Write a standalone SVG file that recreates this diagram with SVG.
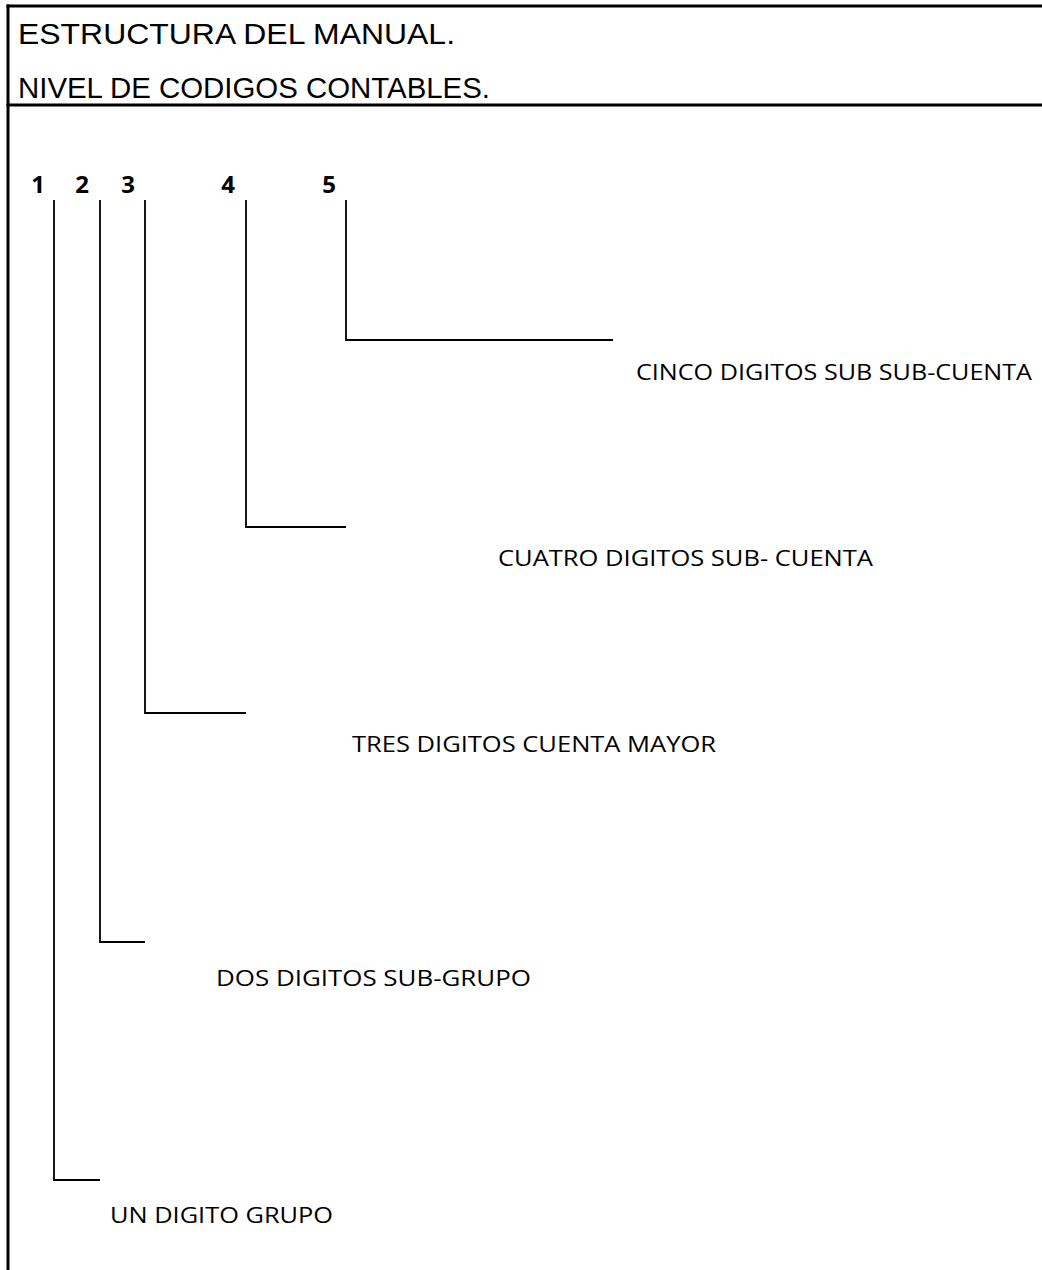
<svg xmlns="http://www.w3.org/2000/svg" width="1042" height="1270" viewBox="0 0 1042 1270">
<style>
.frame{stroke:#000;stroke-width:3;fill:none}
.conn{stroke:#000;stroke-width:1.8;fill:none}
.title{font-family:"Liberation Sans",Arial,sans-serif;font-size:29px;fill:#000}
.digit{font-family:"Open Sans","Noto Sans",sans-serif;font-size:24px;font-weight:bold;fill:#000;text-anchor:middle}
.label{font-family:"Open Sans","Noto Sans",sans-serif;font-size:22px;fill:#000}
</style>
<rect width="1042" height="1270" fill="#fff"/>
<g id="frame">
<line class="frame" x1="8" y1="4.5" x2="8" y2="1270" stroke-width="2.5"/>
<line class="frame" x1="6.5" y1="6" x2="1042" y2="6"/>
<line class="frame" x1="6.5" y1="105" x2="1042" y2="105"/>
<text class="title" x="18" y="44" textLength="437" lengthAdjust="spacingAndGlyphs">ESTRUCTURA DEL MANUAL.</text>
<text class="title" x="18" y="98" textLength="472" lengthAdjust="spacingAndGlyphs">NIVEL DE CODIGOS CONTABLES.</text>
</g>
<g id="digits">
<text class="digit" x="38" y="193">1</text>
<text class="digit" x="82" y="193">2</text>
<text class="digit" x="128" y="193">3</text>
<text class="digit" x="228" y="193">4</text>
<text class="digit" x="329" y="193">5</text>
</g>
<g id="connectors">
<polyline class="conn" points="346,200 346,340 613,340"/>
<polyline class="conn" points="246,200 246,527 346,527"/>
<polyline class="conn" points="145,200 145,713 246,713"/>
<polyline class="conn" points="100,200 100,942 145,942"/>
<polyline class="conn" points="54,200 54,1180 100,1180"/>
</g>
<g id="node5"><text class="label" x="636" y="380" textLength="396" lengthAdjust="spacingAndGlyphs">CINCO DIGITOS SUB SUB-CUENTA</text></g>
<g id="node4"><text class="label" x="498" y="566" textLength="375" lengthAdjust="spacingAndGlyphs">CUATRO DIGITOS SUB- CUENTA</text></g>
<g id="node3"><text class="label" x="352" y="752" textLength="364" lengthAdjust="spacingAndGlyphs">TRES DIGITOS CUENTA MAYOR</text></g>
<g id="node2"><text class="label" x="216" y="986" textLength="315" lengthAdjust="spacingAndGlyphs">DOS DIGITOS SUB-GRUPO</text></g>
<g id="node1"><text class="label" x="110" y="1223" textLength="223" lengthAdjust="spacingAndGlyphs">UN DIGITO GRUPO</text></g>
</svg>
